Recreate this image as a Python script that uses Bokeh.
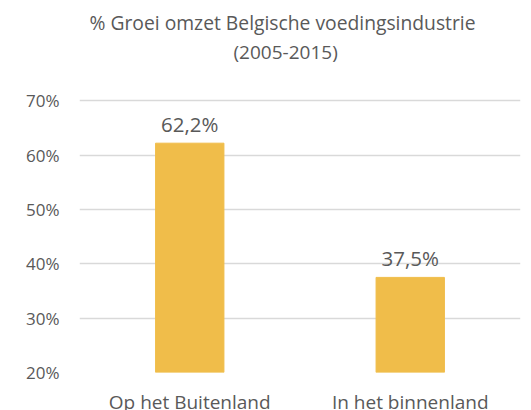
from bokeh.plotting import figure
from bokeh.models import ColumnDataSource, Range1d, FixedTicker, PrintfTickFormatter, Title
from bokeh.core.properties import value
from bokeh.embed import file_html
from bokeh.resources import INLINE

title_lines = ["% Groei omzet Belgische voedingsindustrie", "(2005-2015)"]
categories = ["Op het Buitenland", "In het binnenland"]
growth = [62.2, 37.5]
growth_labels = ["62,2%", "37,5%"]
y_ticks = [20, 30, 40, 50, 60, 70]
y_min, y_view_max = 20, 77.6

FONT = "Open Sans"
GREY = "#595959"
BAR = "#F0BD4A"

src = ColumnDataSource(dict(cat=categories, val=growth, lab=growth_labels))

p = figure(x_range=categories, y_range=Range1d(y_min, y_view_max),
           width=531, height=425, output_backend="svg", toolbar_location=None,
           min_border_left=79, min_border_right=11, min_border_bottom=53, min_border_top=0)
p.outline_line_color = None
p.background_fill_color = "white"
p.border_fill_color = "white"

p.vbar(x="cat", top="val", bottom=y_min, width=0.31, color=BAR, source=src)
p.text(x="cat", y="val", text="lab", source=src, text_align="center",
       text_baseline="alphabetic", y_offset=-19, text_font=value(FONT),
       text_font_size="20.5px", text_color=GREY)

# title lines: nearest to the frame is added first
p.add_layout(Title(text=title_lines[1], align="left", offset=154, text_font=FONT,
                   text_font_size="19px", text_font_style="normal", text_color=GREY,
                   standoff=-11), "above")
p.add_layout(Title(text=title_lines[0], align="left", offset=10, text_font=FONT,
                   text_font_size="19.3px", text_font_style="normal", text_color=GREY,
                   standoff=13), "above")

p.yaxis.ticker = FixedTicker(ticks=y_ticks)
p.yaxis.formatter = PrintfTickFormatter(format="%d%%")
for ax in (p.xaxis, p.yaxis):
    ax.axis_line_color = None
    ax.major_tick_line_color = None
    ax.minor_tick_line_color = None
    ax.major_tick_out = 0
    ax.minor_tick_out = 0
    ax.major_tick_in = 0
    ax.minor_tick_in = 0
    ax.major_label_text_font = FONT
    ax.major_label_text_color = GREY
p.yaxis.major_label_text_font_size = "17px"
p.yaxis.major_label_standoff = 20
p.xaxis.major_label_text_font_size = "19px"
p.xaxis.major_label_standoff = 16

p.xgrid.grid_line_color = None
p.ygrid.grid_line_color = "#D9D9D9"
p.ygrid.grid_line_width = 1.5
p.ygrid.ticker = FixedTicker(ticks=y_ticks)

open("out.html", "w").write(file_html(p, INLINE))
